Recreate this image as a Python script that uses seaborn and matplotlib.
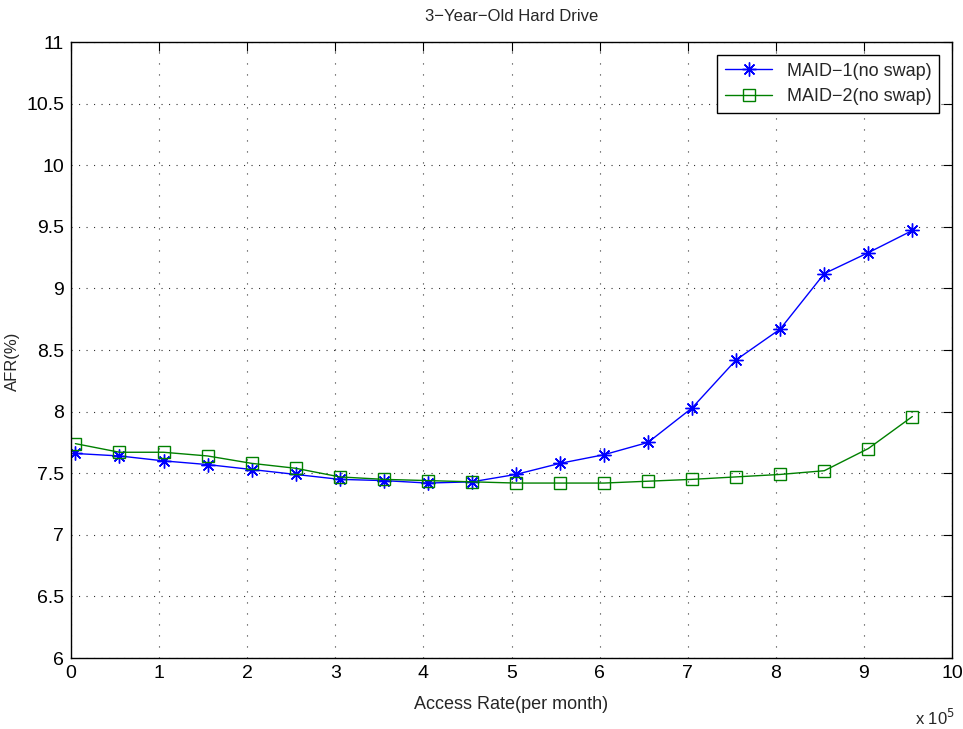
import matplotlib
matplotlib.use("Agg")
import matplotlib.pyplot as plt
import seaborn as sns
import pandas as pd

# Access rate (x 10^5 per month)
access_rate = [0.05, 0.55, 1.05, 1.55, 2.05, 2.55, 3.05, 3.55, 4.05, 4.55,
               5.05, 5.55, 6.05, 6.55, 7.05, 7.55, 8.05, 8.55, 9.05, 9.55]
maid1_afr = [7.66, 7.64, 7.60, 7.57, 7.53, 7.49, 7.45, 7.44, 7.42, 7.43,
             7.49, 7.58, 7.65, 7.75, 8.03, 8.42, 8.67, 9.12, 9.29, 9.47]
maid2_afr = [7.74, 7.67, 7.67, 7.64, 7.58, 7.54, 7.47, 7.45, 7.44, 7.43,
             7.42, 7.42, 7.42, 7.435, 7.45, 7.47, 7.49, 7.52, 7.70, 7.96]
series_names = ["MAID\u22121(no swap)", "MAID\u22122(no swap)"]
x_ticks = list(range(0, 11))
y_ticks = [6, 6.5, 7, 7.5, 8, 8.5, 9, 9.5, 10, 10.5, 11]

sns.set_style("white")
plt.rcParams["font.family"] = ["Liberation Sans", "DejaVu Sans"]

df = pd.DataFrame({
    "rate": access_rate * 2,
    "afr": maid1_afr + maid2_afr,
    "series": [series_names[0]] * len(access_rate) + [series_names[1]] * len(access_rate),
})

fig = plt.figure(figsize=(9.63, 7.29), dpi=100)
ax = fig.add_axes([71 / 963, 1 - 658 / 729, (952 - 71) / 963, (658 - 42) / 729])

# asterisk marker (8 spokes) for MAID-1, hollow squares for MAID-2
sns.lineplot(data=df[df.series == series_names[0]], x="rate", y="afr",
             color="#0000ff", marker=(8, 2, 0), markersize=10, markeredgewidth=1,
             markeredgecolor="#0000ff", linewidth=1, label=series_names[0], ax=ax)
sns.lineplot(data=df[df.series == series_names[1]], x="rate", y="afr",
             color="#008000", marker="s", markersize=8, markeredgewidth=1,
             markerfacecolor="none", markeredgecolor="#008000", linewidth=1,
             label=series_names[1], ax=ax)

ax.set_xlim(0, 10)
ax.set_ylim(6, 11)
ax.set_xticks(x_ticks)
ax.set_yticks(y_ticks)
ax.set_xticklabels([str(t) for t in x_ticks])
ax.set_yticklabels([("%g" % t) for t in y_ticks])
# dotted grid: tighter dots along horizontal lines
ax.yaxis.grid(True, linestyle=(0, (1, 5.75)), color="#333333", linewidth=0.8)
ax.xaxis.grid(True, linestyle=(0, (1, 8.9)), color="#333333", linewidth=0.8)
ax.tick_params(direction="in", length=6.5, width=0.8, top=True, right=True,
               labelsize=14, pad=5, colors="black")
for s in ax.spines.values():
    s.set_color("black")
    s.set_linewidth(1.0)

ax.set_title("3\u2212Year\u2212Old Hard Drive", fontsize=12, pad=15)
ax.set_xlabel("Access Rate(per month)", fontsize=13)
ax.xaxis.set_label_coords(0.5, -0.062)
ax.set_ylabel("AFR(%)", fontsize=12)
ax.yaxis.set_label_coords(-0.058, 0.482)
fig.text(915 / 963, 1 - 718 / 729, "x 10$^5$", fontsize=12, va="center", ha="left")

leg = ax.legend(loc="upper right", fontsize=13, frameon=True, fancybox=False,
                edgecolor="black", framealpha=1, borderpad=0.45, handlelength=2.6,
                labelspacing=0.45, borderaxespad=0.7)
leg.get_frame().set_linewidth(1.0)

fig.savefig("out.png", dpi=100)
